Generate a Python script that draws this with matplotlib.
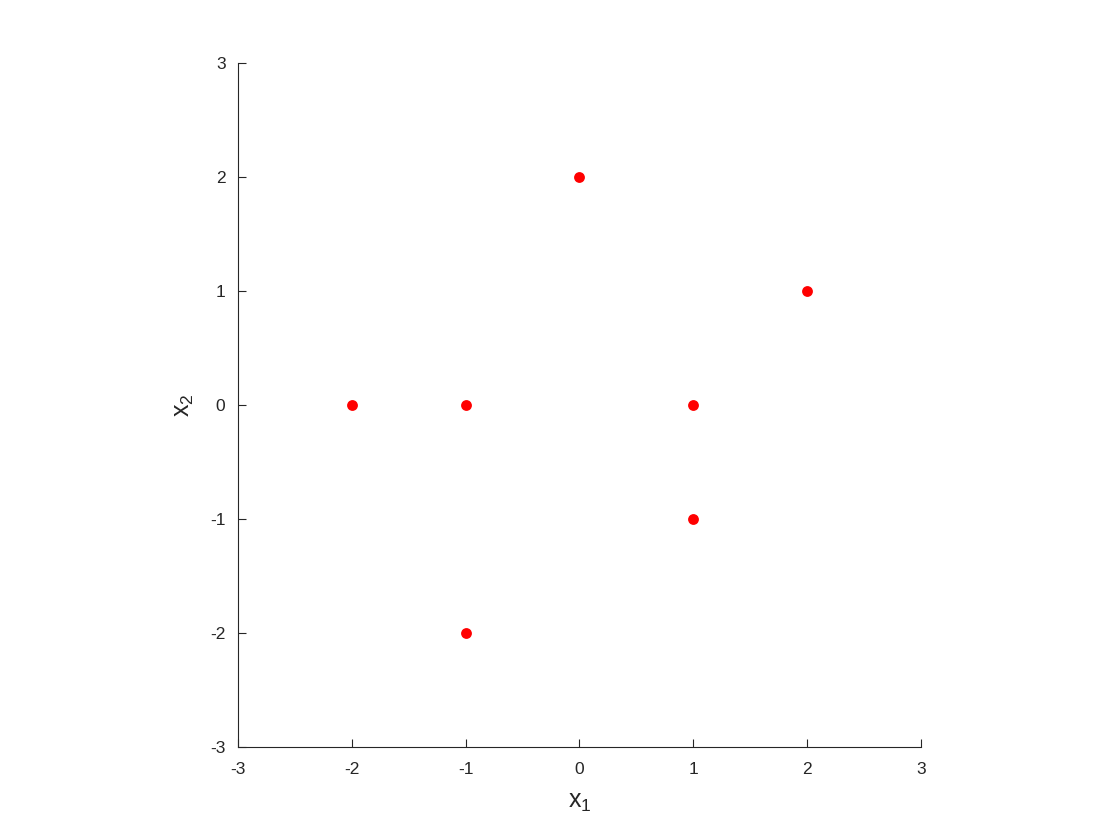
import numpy as np
import matplotlib
matplotlib.use("Agg")
import matplotlib.pyplot as plt

x1 = [0, 2, -2, -1, 1, 1, -1]
x2 = [2, 1, 0, 0, 0, -1, -2]
ticks = [-3, -2, -1, 0, 1, 2, 3]

plt.rcParams['font.family'] = ['Liberation Sans', 'DejaVu Sans']
plt.rcParams['axes.unicode_minus'] = False
plt.rcParams['mathtext.fontset'] = 'custom'
plt.rcParams['mathtext.rm'] = 'Liberation Sans'

fig = plt.figure(figsize=(11.2, 8.4), dpi=100)
ax = fig.add_axes([0.2125, 0.1107, 0.6098, 0.8143])
ax.plot(x1, x2, 'o', color='#ff0000', markersize=7.8, markeredgewidth=0)
ax.set_xlim(-3, 3)
ax.set_ylim(-3, 3)
ax.set_xticks(ticks)
ax.set_yticks(ticks)
ax.spines['top'].set_visible(False)
ax.spines['right'].set_visible(False)
for s in ['left', 'bottom']:
    ax.spines[s].set_color('#262626')
    ax.spines[s].set_linewidth(0.8)
ax.tick_params(direction='in', length=6, width=0.8, colors='#262626',
               labelsize=12.5)
ax.tick_params(axis='x', pad=11)
ax.tick_params(axis='y', pad=9)
ax.set_xlabel('x$_\\mathrm{1}$', fontsize=18, color='#262626', labelpad=9)
ax.set_ylabel('x$_\\mathrm{2}$', fontsize=18, color='#262626', labelpad=10)
fig.savefig('out.png', dpi=100)
